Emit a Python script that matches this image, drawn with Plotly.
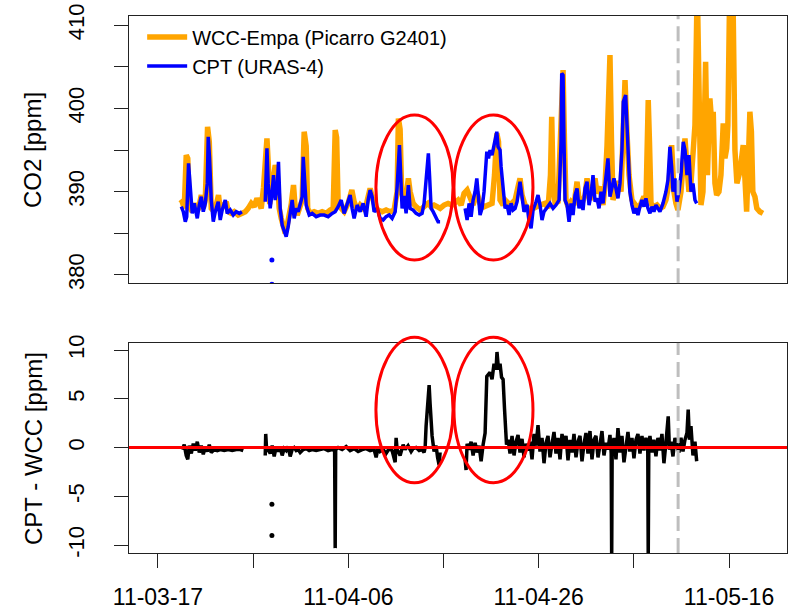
import pandas as pd
import plotly.graph_objects as go

BASE = pd.Timestamp("2011-03-17")

# ---------------- data (days after 2011-03-17, values) ----------------
wcc_days = [2.34, 2.55, 2.76, 2.97, 3.13, 3.29, 3.60, 3.92, 4.23, 4.55, 4.76, 4.97, 5.21, 5.39, 5.60, 5.91,
            6.12, 6.36, 6.54, 6.86, 7.17, 7.38, 7.70, 8.01, 8.43, 8.85, 9.17, 9.48, 9.80, 10.11, 10.40, 10.64,
            10.85, 11.09, 11.27, 11.45, 11.58, 11.74, 11.90, 12.11, 12.32, 12.53, 12.74, 12.95, 13.16, 13.37,
            13.58, 13.79, 14.00, 14.24, 14.42, 14.63, 14.94, 15.15, 15.36, 15.57, 15.73, 15.99, 16.41, 16.83,
            17.25, 17.67, 18.09, 18.41, 18.62, 18.77, 18.93, 19.25, 19.56, 19.98, 20.37, 20.61, 20.93, 21.24,
            21.56, 21.87, 22.08, 22.29, 22.50, 22.82, 23.13, 23.55, 23.97, 24.39, 24.81, 25.13, 25.26, 25.44,
            25.60, 25.86, 26.07, 26.31, 26.49, 26.81, 27.12, 27.54, 27.96, 28.38, 28.70, 29.01, 29.33, 29.64,
            30.06, 30.48, 30.90, 31.22, 31.53, 31.85, 32.16, 32.48, 32.79, 33.11, 33.50, 33.84, 34.26, 34.68,
            35.10, 35.36, 35.60, 35.78, 35.94, 36.26, 36.47, 36.99, 37.52, 37.83, 38.04, 38.25, 38.57, 39.09,
            39.62, 40.14, 40.67, 40.98, 41.24, 41.37, 41.51, 41.72, 42.03, 42.24, 42.42, 42.56, 42.71, 42.87,
            43.08, 43.40, 43.71, 44.03, 44.24, 44.55, 44.87, 45.08, 45.39, 45.71, 45.92, 46.13, 46.44, 46.76,
            46.97, 47.18, 47.28, 47.49, 47.65, 47.81, 48.12, 48.44, 48.65, 48.86, 49.07, 49.28, 49.49, 49.80,
            50.12, 50.43, 50.75, 51.06, 51.27, 51.43, 51.51, 51.64, 51.80, 52.11, 52.43, 52.74, 53.06, 53.37,
            53.69, 53.97, 54.21, 54.42, 54.63, 54.95, 55.16, 55.37, 55.58, 55.79, 56.00, 56.24, 56.42, 56.66,
            56.84, 57.05, 57.26, 57.54, 57.73, 57.99, 58.20, 58.34, 58.52, 58.70, 58.94, 59.15, 59.39, 59.57,
            59.75, 59.88, 60.09, 60.25, 60.41, 60.62, 60.83, 61.14, 61.49, 61.67, 61.85, 61.98, 62.19, 62.35,
            62.50, 62.72, 62.92, 63.24, 63.56]
wcc_ppm = [388.6, 388.8, 388.0, 394.4, 394.0, 388.2, 387.6, 388.6, 387.8, 389.6, 388.0, 389.0, 397.8, 396.0,
           388.0, 387.6, 388.4, 389.6, 387.8, 388.2, 388.8, 387.6, 387.4, 387.6, 387.2, 387.4, 387.6, 388.0,
           388.6, 388.2, 389.2, 388.6, 388.0, 390.5, 393.0, 396.4, 393.5, 388.5, 390.0, 391.5, 393.2, 392.0,
           388.0, 386.8, 385.5, 385.0, 386.0, 387.0, 388.5, 390.8, 388.0, 387.2, 388.2, 389.0, 397.2, 395.5,
           388.0, 387.4, 387.6, 387.4, 387.6, 387.4, 387.8, 388.0, 397.4, 396.5, 388.4, 388.0, 387.6, 388.6,
           390.2, 388.8, 387.8, 388.4, 388.0, 388.4, 389.2, 390.4, 389.4, 388.2, 387.8, 387.6, 387.8, 387.6,
           387.8, 390.0, 398.8, 397.5, 390.0, 388.6, 389.5, 391.6, 390.0, 388.6, 388.2, 387.8, 388.2, 388.6,
           388.2, 388.4, 388.2, 388.0, 388.4, 388.6, 388.4, 388.8, 389.0, 388.4, 389.8, 390.2, 389.2, 388.4,
           390.0, 388.6, 388.2, 388.4, 388.6, 392.0, 397.0, 396.0, 389.0, 388.4, 389.0, 388.4, 389.0, 390.6,
           391.6, 389.6, 388.4, 387.8, 388.2, 388.4, 388.6, 388.0, 392.0, 399.0, 391.0, 388.6, 388.8, 395.0,
           404.4, 404.6, 396.0, 389.0, 388.2, 388.8, 388.4, 391.2, 389.0, 388.6, 389.6, 391.6, 389.0, 390.4,
           391.6, 389.8, 390.6, 388.4, 390.8, 395.5, 401.0, 406.4, 396.0, 389.0, 390.6, 391.2, 390.0, 398.0,
           403.4, 397.0, 392.0, 389.0, 388.4, 388.0, 388.6, 389.4, 388.8, 395.0, 401.0, 396.0, 388.6, 388.2,
           388.4, 388.0, 388.2, 389.0, 391.0, 395.6, 390.0, 388.6, 387.8, 390.0, 394.0, 396.4, 393.0, 390.0,
           391.0, 394.4, 398.0, 415.0, 396.0, 388.4, 390.0, 405.6, 392.0, 401.2, 398.0, 399.6, 391.0, 389.6,
           390.0, 392.0, 398.2, 394.0, 395.2, 398.0, 416.0, 418.0, 414.0, 395.0, 391.0, 392.4, 395.6, 389.0,
           387.6, 392.0, 399.6, 397.2, 390.0, 389.4, 388.0, 387.6, 387.4]

cpt_days = [2.45, 2.66, 2.87, 3.02, 3.21, 3.39, 3.60, 3.81, 4.13, 4.34, 4.55, 4.76, 4.97, 5.18, 5.28, 5.42,
            5.60, 5.81, 6.02, 6.33, 6.54, 6.75, 7.07, 7.28, 7.59, 7.91, 8.22, 8.54, 8.82, 10.00,
            11.27, 11.45, 11.58, 11.79, 12.00, 12.14, 12.32, 12.53, 12.66, 12.84, 13.05, 13.26, 13.47, 13.68,
            13.89, 14.10, 14.31, 14.52, 14.73, 14.94, 15.15, 15.26, 15.41, 15.57, 15.89, 16.20, 16.62, 17.04,
            17.46, 17.88, 18.30, 18.62, 18.93, 19.25, 19.56, 19.88, 20.19, 20.40, 20.61, 20.93, 21.24, 21.56,
            21.87, 22.08, 22.29, 22.50, 22.71, 23.03, 23.34, 23.66, 23.97, 24.29, 24.60, 24.92, 25.13, 25.37,
            25.49, 25.65, 25.86, 26.07, 26.31, 26.49, 26.81, 27.12, 27.44, 27.75, 27.96, 28.07, 28.28, 28.41,
            28.54, 28.70, 28.91, 29.22, 29.43, 29.64, 31.00,
            32.27, 32.48, 32.69, 32.90, 33.11, 33.32, 33.50, 33.68, 33.84, 34.05, 34.26, 34.55, 34.73, 34.89,
            35.10, 35.31, 35.60, 35.73, 35.94, 36.05, 36.26, 36.47, 36.68, 36.89, 37.10, 37.31, 37.52, 37.73,
            38.04, 38.25, 38.46, 38.78, 38.99, 39.20, 39.41, 39.72, 39.93, 40.14, 40.35, 40.56, 40.88, 41.19,
            41.51, 41.82, 42.14, 42.35, 42.42, 42.56, 42.66, 42.77, 42.98, 43.19, 43.40, 43.61, 43.82, 44.03,
            44.24, 44.45, 44.66, 44.87, 45.08, 45.29, 45.50, 45.71, 45.92, 46.13, 46.34, 46.55, 46.76, 46.97,
            47.28, 47.49, 47.70, 47.91, 48.12, 48.33, 48.54, 48.75, 48.89, 49.14, 49.28, 49.41, 49.58, 49.80,
            50.01, 50.22, 50.43, 50.64, 50.85, 51.06, 51.27, 51.48, 51.69, 51.90, 52.11, 52.32, 52.53, 52.74,
            53.06, 53.37, 53.58, 53.79, 53.97, 54.11, 54.32, 54.53, 54.74, 54.95, 55.19, 55.37, 55.58, 55.79,
            56.00, 56.21, 56.42, 56.60]
cpt_ppm = [388.2, 387.6, 386.4, 387.0, 393.4, 390.0, 387.4, 388.6, 386.8, 388.4, 389.4, 387.6, 388.6, 391.0,
           396.6, 394.0, 389.0, 386.4, 387.6, 388.8, 386.6, 387.8, 389.0, 387.4, 387.8, 387.2, 387.6, 387.4,
           387.6, None,
           388.8, 395.2, 391.0, 388.0, 390.0, 392.0, 389.0, 390.5, 393.6, 388.0, 386.0, 385.2, 384.6, 385.8,
           387.5, 389.0, 386.8, 388.0, 387.6, 388.4, 389.4, 394.2, 392.0, 388.4, 387.2, 387.4, 387.0, 387.2,
           387.2, 387.0, 387.4, 387.6, 388.2, 389.0, 387.4, 388.6, 389.6, 388.0, 386.8, 388.4, 387.6, 388.6,
           387.0, 389.0, 390.2, 389.4, 387.6, 388.0, 386.8, 386.6, 387.0, 387.2, 386.8, 387.6, 390.6, 395.6,
           392.0, 388.0, 389.5, 387.4, 390.8, 388.0, 387.8, 387.4, 387.2, 387.4, 388.6, 390.0, 391.8, 394.6,
           391.8, 388.0, 387.6, 387.0, 386.4, 386.4, None,
           388.0, 386.6, 388.6, 387.0, 389.0, 390.0, 391.6, 389.0, 387.2, 388.0, 390.0, 394.8, 394.0, 395.0,
           394.4, 395.6, 397.2, 395.4, 395.0, 393.0, 389.8, 388.0, 388.4, 387.2, 388.6, 387.8, 388.0, 388.8,
           391.2, 389.0, 387.6, 388.4, 386.4, 385.6, 387.8, 388.8, 389.6, 388.4, 386.6, 387.6, 388.2, 388.6,
           388.0, 388.4, 389.0, 396.0, 404.2, 404.0, 396.0, 389.0, 388.4, 386.4, 388.6, 387.2, 389.6, 390.4,
           388.0, 389.0, 387.8, 390.4, 391.2, 388.4, 389.6, 392.0, 388.8, 389.2, 388.0, 390.0, 388.6, 391.0,
           394.0, 389.4, 390.6, 391.6, 390.4, 389.2, 391.0, 395.0, 400.8, 401.6, 398.0, 394.4, 390.0, 388.4,
           387.4, 388.0, 387.2, 388.2, 389.0, 388.2, 389.2, 388.0, 387.4, 388.2, 387.6, 388.4, 388.0, 387.6,
           388.6, 390.0, 391.4, 395.4, 393.0, 390.0, 391.6, 388.8, 390.0, 392.0, 396.0, 395.0, 392.0, 394.4,
           390.0, 391.0, 389.0, 388.6]

cpt_outlier_days = [11.97, 11.97]
cpt_outlier_ppm = [381.8, 378.9]

diff_days = [2.55, 2.76, 2.97, 3.13, 3.29, 3.50, 3.71, 3.92, 4.13, 4.34, 4.55, 4.76, 4.97, 5.18, 5.39, 5.60,
             5.91, 6.23, 6.54, 6.96, 7.38, 7.80, 8.22, 8.64, 8.96, 10.00,
             11.27, 11.32, 11.42, 11.58, 11.79, 12.00, 12.21, 12.42, 12.63, 12.84, 13.05, 13.26, 13.47, 13.68,
             13.89, 14.10, 14.31, 14.52, 14.73, 14.94, 15.26, 15.57, 15.89, 16.20, 16.62, 17.04, 17.46, 17.88,
             18.30, 18.56, 18.62, 18.67, 18.93, 19.35, 19.77, 20.19, 20.61, 21.03, 21.45, 21.87, 22.29, 22.71,
             22.92, 23.13, 23.34, 23.66, 23.97, 24.29, 24.60, 24.92, 25.02, 25.13, 25.44, 25.76, 25.97, 26.28,
             26.60, 26.81, 27.12, 27.44, 27.75, 27.96, 28.07, 28.17, 28.28, 28.38, 28.49, 28.59, 28.70, 28.80,
             29.01, 29.22, 29.38, 29.54, 29.64, 31.00,
             32.27, 32.37, 32.48, 32.69, 32.90, 33.11, 33.32, 33.53, 33.74, 33.95, 34.16, 34.37, 34.55, 34.68,
             34.89, 35.10, 35.31, 35.52, 35.62, 35.78, 35.94, 36.10, 36.26, 36.41, 36.52, 36.62, 36.78, 36.99,
             37.20, 37.41, 37.62, 37.83, 38.04, 38.25, 38.46, 38.67, 38.88, 39.09, 39.30, 39.51, 39.72, 39.93,
             40.14, 40.35, 40.56, 40.77, 40.98, 41.19, 41.40, 41.61, 41.82, 42.03, 42.24, 42.45, 42.66, 42.87,
             43.08, 43.29, 43.50, 43.71, 43.92, 44.13, 44.34, 44.55, 44.76, 44.97, 45.18, 45.39, 45.60, 45.81,
             46.02, 46.23, 46.44, 46.65, 46.86, 47.07, 47.28, 47.49, 47.62, 47.67, 47.72, 47.91, 48.12, 48.33,
             48.54, 48.75, 48.96, 49.17, 49.38, 49.58, 49.80, 50.01, 50.22, 50.43, 50.64, 50.85, 51.06, 51.27,
             51.46, 51.51, 51.57, 51.69, 51.90, 52.11, 52.32, 52.53, 52.74, 52.95, 53.16, 53.37, 53.61, 53.74,
             53.90, 54.11, 54.32, 54.53, 54.74, 54.95, 55.16, 55.37, 55.58, 55.71, 55.84, 56.00, 56.21, 56.42,
             56.60]
diff_ppm = [-0.2, 0.3, -0.8, -1.2, 0.2, -0.6, 0.4, -0.3, 0.6, -0.5, 0.2, -0.7, 0.1, -0.4, 0.3, -0.5,
            -0.2, -0.3, -0.2, -0.3, -0.2, -0.3, -0.2, -0.2, -0.3, None,
            -0.8, 1.4, -0.3, -0.2, -0.6, 0.2, -0.9, 0.1, -0.4, 0.0, -0.8, -0.1, -0.3, 0.1,
            -0.9, -0.2, 0.0, -0.3, -0.2, -0.5, -0.2, -0.1, -0.3, -0.2, -0.3, -0.2, -0.1, -0.3,
            -0.2, -0.3, -10.3, -0.2, 0.0, -0.2, 0.1, -0.3, -0.1, -0.4, -0.2, -0.1, -0.3, -0.2,
            -1.0, 0.0, -0.4, -0.2, -0.6, -0.1, -0.3, -1.5, 1.0, -0.2, -0.8, 0.3, -0.2, 0.2,
            -0.4, -0.1, 0.0, -0.3, -0.2, -0.5, 0.0, 2.2, 4.0, 6.0, 6.4, 4.5, 2.0, 1.2,
            -0.4, 0.2, -1.0, -1.8, -0.5, None,
            -1.2, -2.3, 0.4, -0.2, 0.6, -0.8, 0.5, -0.5, 0.2, -1.4, 0.3, 1.5, 7.3, 7.5,
            7.7, 7.0, 8.6, 8.0, 9.8, 8.0, 8.6, 7.2, 7.0, 4.0, 2.5, 0.3, 0.8, -0.6,
            1.2, -0.8, 0.6, 1.3, -0.5, 0.9, -1.0, 0.4, -0.3, 0.6, -1.2, 1.4, 0.2, 2.3,
            -0.4, 1.0, -1.6, 0.5, 1.2, -1.0, 0.4, 1.6, -0.6, 1.0, -1.2, 1.4, 0.0, 1.2,
            -1.3, 0.8, -0.5, 1.4, -1.0, 0.6, 1.2, -1.4, 0.4, 1.5, -0.6, 1.7, -1.2, 0.8,
            1.2, -1.0, 0.3, 1.7, -0.8, 0.5, -0.2, 1.3, -0.6, -11.5, -0.5, 1.0, -1.2, 2.0,
            -0.5, 1.2, -1.5, 0.4, 1.6, -0.4, 1.0, -1.1, 0.8, 1.4, -0.6, 1.2, -0.3, 1.0,
            0.2, -11.5, 0.1, 1.2, -0.5, 0.8, -0.9, 1.0, -0.3, 1.4, -1.6, 0.5, 3.2, -0.2,
            0.6, -0.9, 1.0, 0.2, -0.5, 1.0, -0.4, 0.8, 1.5, 3.9, 0.8, 2.2, -0.8, 0.6,
            -1.4]

diff_outlier_days = [11.97, 11.97]
diff_outlier_ppm = [-5.8, -9.0]

x_tick_dates = ["2011-03-17", "2011-03-27", "2011-04-06", "2011-04-16", "2011-04-26", "2011-05-06", "2011-05-16"]
x_tick_labels = ["11-03-17", "", "11-04-06", "", "11-04-26", "", "11-05-16"]
top_tick_vals = [380, 385, 390, 395, 400, 405, 410]
top_tick_labels = ["380", "", "390", "", "400", "", "410"]
bottom_tick_vals = [-10, -5, 0, 5, 10]
bottom_tick_labels = ["-10", "-5", "0", "5", "10"]

x_range = ["2011-03-13 22:56", "2011-05-22 02:10"]
top_range = [379.0, 411.1]
bottom_range = [-10.8, 10.75]
marker_time = "2011-05-10 15:36"

# ellipses: (start day, end day, low value, high value)
top_ellipses = [(22.9, 31.0, 381.8, 399.2), (31.1, 39.4, 381.8, 399.2)]
bottom_ellipses = [(22.9, 31.0, -3.6, 11.3), (31.1, 39.4, -3.6, 11.3)]


def to_time(days):
    return BASE + pd.to_timedelta(pd.Series(days, dtype=float), unit="D")


FONT = "Liberation Sans, Arial, sans-serif"

fig = go.Figure()
fig.add_trace(go.Scatter(x=to_time(wcc_days), y=wcc_ppm, mode="lines", name="WCC-Empa (Picarro G2401)",
                         line=dict(color="#FFA500", width=5.5), xaxis="x", yaxis="y"))
fig.add_trace(go.Scatter(x=to_time(cpt_days), y=cpt_ppm, mode="lines", name="CPT (URAS-4)",
                         line=dict(color="#0000FF", width=3.5), connectgaps=False, xaxis="x", yaxis="y"))
fig.add_trace(go.Scatter(x=to_time(cpt_outlier_days), y=cpt_outlier_ppm, mode="markers", showlegend=False,
                         marker=dict(color="#0000FF", size=5), xaxis="x", yaxis="y"))
fig.add_trace(go.Scatter(x=to_time(diff_days), y=diff_ppm, mode="lines", showlegend=False,
                         line=dict(color="black", width=3.5), connectgaps=False, xaxis="x2", yaxis="y2"))
fig.add_trace(go.Scatter(x=to_time(diff_outlier_days), y=diff_outlier_ppm, mode="markers", showlegend=False,
                         marker=dict(color="black", size=5), xaxis="x2", yaxis="y2"))

x0 = pd.Timestamp(x_range[0])
x1 = pd.Timestamp(x_range[1])
span = (x1 - x0).total_seconds()


def xfrac(day):
    return ((BASE + pd.Timedelta(days=day)) - x0).total_seconds() / span


shapes = []
for (d0, d1, v0, v1) in top_ellipses:
    shapes.append(dict(type="circle", xref="x domain", yref="y domain",
                       x0=xfrac(d0), x1=xfrac(d1),
                       y0=(v0 - top_range[0]) / (top_range[1] - top_range[0]),
                       y1=(v1 - top_range[0]) / (top_range[1] - top_range[0]),
                       line=dict(color="#FF0000", width=3)))
for (d0, d1, v0, v1) in bottom_ellipses:
    shapes.append(dict(type="circle", xref="x2 domain", yref="y2 domain",
                       x0=xfrac(d0), x1=xfrac(d1),
                       y0=(v0 - bottom_range[0]) / (bottom_range[1] - bottom_range[0]),
                       y1=(v1 - bottom_range[0]) / (bottom_range[1] - bottom_range[0]),
                       line=dict(color="#FF0000", width=3)))
# red zero line
shapes.append(dict(type="line", xref="x2", yref="y2", x0=x_range[0], x1=x_range[1], y0=0, y1=0,
                   line=dict(color="#FF0000", width=3)))
# grey dashed vertical marker in both panels
shapes.append(dict(type="line", xref="x", yref="y", x0=marker_time, x1=marker_time,
                   y0=top_range[0], y1=top_range[1], line=dict(color="#BEBEBE", width=3, dash="15px,7px")))
shapes.append(dict(type="line", xref="x2", yref="y2", x0=marker_time, x1=marker_time,
                   y0=bottom_range[0], y1=bottom_range[1], line=dict(color="#BEBEBE", width=3, dash="15px,7px")))

axis_common = dict(showline=True, linecolor="#222222", linewidth=1.3, mirror=True, showgrid=False,
                   zeroline=False, automargin=False)

fig.update_layout(
    width=790, height=613,
    margin=dict(l=129, r=3, t=16, b=60, autoexpand=False),
    paper_bgcolor="white", plot_bgcolor="white",
    font=dict(family=FONT, color="black"),
    showlegend=True,
    legend=dict(x=0.02, y=0.997, xanchor="left", yanchor="top", bgcolor="rgba(0,0,0,0)",
                font=dict(size=20, family=FONT), tracegroupgap=0, itemwidth=40),
    xaxis=dict(domain=[0, 1], anchor="y", type="date", range=x_range, showticklabels=False, ticks="",
               **axis_common),
    yaxis=dict(domain=[0.5022, 1], anchor="x", range=top_range, tickvals=top_tick_vals,
               ticktext=top_tick_labels, ticks="outside", ticklen=14, tickwidth=1.3, tickcolor="#222222",
               tickangle=-90, tickfont=dict(size=22, family=FONT), ticklabelstandoff=21, **axis_common),
    xaxis2=dict(domain=[0, 1], anchor="y2", type="date", range=x_range, matches="x",
                tickvals=x_tick_dates, ticktext=x_tick_labels, ticks="outside", ticklen=14, tickwidth=1.3,
                tickcolor="#222222", tickfont=dict(size=23, family=FONT), ticklabelstandoff=9,
                **axis_common),
    yaxis2=dict(domain=[0, 0.3916], anchor="x2", range=bottom_range, tickvals=bottom_tick_vals,
                ticktext=bottom_tick_labels, ticks="outside", ticklen=14, tickwidth=1.3, tickcolor="#222222",
                tickangle=-90, tickfont=dict(size=22, family=FONT), ticklabelstandoff=21, **axis_common),
    shapes=shapes,
    annotations=[
        dict(text="CO2 [ppm]", xref="paper", yref="paper", x=-0.1459, y=0.7505, showarrow=False,
             textangle=-90, font=dict(size=24, family=FONT), xanchor="center", yanchor="middle"),
        dict(text="CPT - WCC [ppm]", xref="paper", yref="paper", x=-0.1459, y=0.1955, showarrow=False,
             textangle=-90, font=dict(size=24, family=FONT), xanchor="center", yanchor="middle"),
    ],
)

fig.write_html("out.html")
